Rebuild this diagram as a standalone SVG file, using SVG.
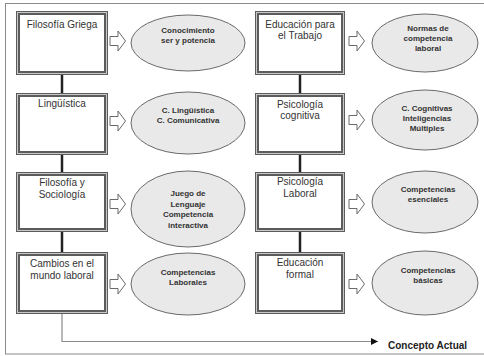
<svg xmlns="http://www.w3.org/2000/svg" width="484" height="356" viewBox="0 0 484 356">
<defs>
<style>
.frame{fill:none;stroke:#8a8a8a;stroke-width:1}
.bo{fill:#fff;stroke:#5c5c5c;stroke-width:4}
.bi{fill:none;stroke:#c8c8c8;stroke-width:1}
.bt{font-family:"Liberation Sans",Arial,sans-serif;font-size:10px;fill:#333;text-anchor:middle}
.el{fill:#e9e9e9;stroke:#6a6a6a;stroke-width:1}
.et{font-family:"Liberation Sans",Arial,sans-serif;font-size:8px;font-weight:bold;fill:#333;text-anchor:middle}
.ar{fill:#fff;stroke:#6a6a6a;stroke-width:1;stroke-linejoin:miter}
.vc{stroke:#222;stroke-width:2.5;fill:none}
.bl{stroke:#8a8a8a;stroke-width:1.2;fill:none}
</style>
<marker id="ah" viewBox="0 0 10 10" refX="10" refY="5" markerWidth="7" markerHeight="7" markerUnits="userSpaceOnUse" orient="auto">
<path d="M0,0 L10,5 L0,10 z" fill="#111"/>
</marker>
<path id="blk" d="M0,-4.5 L8,-4.5 L8,-10 L15.5,0 L8,10 L8,4.5 L0,4.5 z"/>
</defs>
<rect class="frame" x="5.5" y="3.5" width="490" height="350.5"/>
<g id="connectors">
<line class="vc" x1="62" y1="75" x2="62" y2="93"/>
<line class="vc" x1="62" y1="155" x2="62" y2="172"/>
<line class="vc" x1="62" y1="232" x2="62" y2="252"/>
<line class="vc" x1="300" y1="75" x2="300" y2="93"/>
<line class="vc" x1="300" y1="155" x2="300" y2="172"/>
<line class="vc" x1="300" y1="232" x2="300" y2="252"/>
<polyline class="bl" points="62,314 62,341.5 378,341.5" marker-end="url(#ah)"/>
<use href="#blk" class="ar" x="110" y="41"/>
<use href="#blk" class="ar" x="110" y="121"/>
<use href="#blk" class="ar" x="110" y="204"/>
<use href="#blk" class="ar" x="110" y="284"/>
<use href="#blk" class="ar" x="349" y="41"/>
<use href="#blk" class="ar" x="349" y="120"/>
<use href="#blk" class="ar" x="349" y="204"/>
<use href="#blk" class="ar" x="349" y="284"/>
</g>
<g id="b1"><rect class="bo" x="18" y="13" width="88" height="60"/><rect class="bi" x="17.5" y="12.5" width="89" height="61"/><text class="bt" x="62" y="28">Filosofía Griega</text></g>
<g id="b2"><rect class="bo" x="18" y="95" width="88" height="58"/><rect class="bi" x="17.5" y="94.5" width="89" height="59"/><text class="bt" x="62" y="107">Lingüística</text></g>
<g id="b3"><rect class="bo" x="18" y="174" width="88" height="56"/><rect class="bi" x="17.5" y="173.5" width="89" height="57"/><text class="bt" x="62" y="186">Filosofía y</text><text class="bt" x="62" y="198">Sociología</text></g>
<g id="b4"><rect class="bo" x="18" y="254" width="88" height="58"/><rect class="bi" x="17.5" y="253.5" width="89" height="59"/><text class="bt" x="62" y="267">Cambios en el</text><text class="bt" x="62" y="279">mundo laboral</text></g>
<g id="b5"><rect class="bo" x="257" y="13" width="86" height="60"/><rect class="bi" x="256.5" y="12.5" width="87" height="61"/><text class="bt" x="300" y="28">Educación para</text><text class="bt" x="300" y="39">el Trabajo</text></g>
<g id="b6"><rect class="bo" x="257" y="95" width="86" height="58"/><rect class="bi" x="256.5" y="94.5" width="87" height="59"/><text class="bt" x="300" y="108">Psicología</text><text class="bt" x="300" y="119">cognitiva</text></g>
<g id="b7"><rect class="bo" x="257" y="174" width="86" height="56"/><rect class="bi" x="256.5" y="173.5" width="87" height="57"/><text class="bt" x="300" y="185">Psicología</text><text class="bt" x="300" y="197">Laboral</text></g>
<g id="b8"><rect class="bo" x="257" y="254" width="86" height="58"/><rect class="bi" x="256.5" y="253.5" width="87" height="59"/><text class="bt" x="300" y="266">Educación</text><text class="bt" x="300" y="278">formal</text></g>
<g id="e1"><ellipse class="el" cx="188" cy="43" rx="57" ry="28"/><text class="et" x="188" y="33">Conocimiento</text><text class="et" x="188" y="43">ser y potencia</text></g>
<g id="e2"><ellipse class="el" cx="188" cy="123" rx="57" ry="31"/><text class="et" x="188" y="113">C. Lingüística</text><text class="et" x="188" y="123">C. Comunicativa</text></g>
<g id="e3"><ellipse class="el" cx="188" cy="209" rx="57" ry="38"/><text class="et" x="188" y="196">Juego de</text><text class="et" x="188" y="206.5">Lenguaje</text><text class="et" x="188" y="217">Competencia</text><text class="et" x="188" y="227.5">interactiva</text></g>
<g id="e4"><ellipse class="el" cx="188" cy="284" rx="57" ry="31"/><text class="et" x="188" y="275">Competencias</text><text class="et" x="188" y="285">Laborales</text></g>
<g id="e5"><ellipse class="el" cx="425" cy="43" rx="53" ry="29"/><text class="et" x="428" y="31">Normas de</text><text class="et" x="428" y="41">competencia</text><text class="et" x="428" y="51">laboral</text></g>
<g id="e6"><ellipse class="el" cx="425" cy="120" rx="53" ry="30"/><text class="et" x="427" y="111">C. Cognitivas</text><text class="et" x="427" y="121">Inteligencias</text><text class="et" x="427" y="131">Múltiples</text></g>
<g id="e7"><ellipse class="el" cx="425" cy="202" rx="53" ry="31"/><text class="et" x="428" y="192">Competencias</text><text class="et" x="428" y="202">esenciales</text></g>
<g id="e8"><ellipse class="el" cx="425" cy="283" rx="53" ry="32"/><text class="et" x="428" y="273">Competencias</text><text class="et" x="428" y="283">básicas</text></g>
<text id="concepto" x="388" y="349" style="font-family:'Liberation Sans',Arial,sans-serif;font-size:10px;font-weight:bold;fill:#222">Concepto Actual</text>
</svg>
